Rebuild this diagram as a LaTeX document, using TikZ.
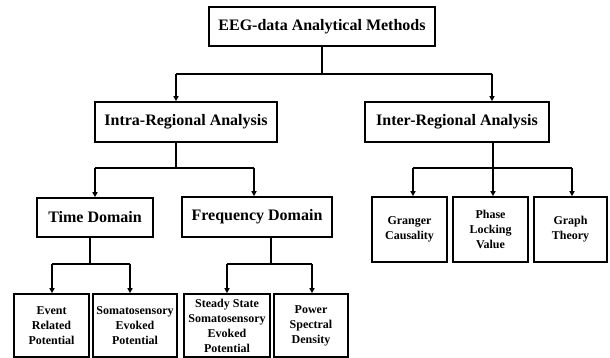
\documentclass[tikz,border=0pt]{standalone}
\usepackage{fontspec}
\setmainfont{Liberation Serif}
\usetikzlibrary{arrows.meta}
\begin{document}
\begin{tikzpicture}[x=1pt,y=-1pt,
  box/.style={draw,line width=1.6pt,rectangle,inner sep=0pt,align=center,font=\bfseries\fontsize{16}{19}\selectfont},
  leaf/.style={draw,line width=1.6pt,rectangle,inner sep=0pt,align=center,font=\bfseries\fontsize{12}{15}\selectfont},
  conn/.style={line width=1.3pt},
  arr/.style={line width=1.3pt,-{Triangle[width=5pt,length=5pt]}}]
\useasboundingbox[fill=white] (0,0) rectangle (610,358);
% boxes
\node[box,minimum width=226,minimum height=39] (top) at (322,26.5) {EEG-data Analytical Methods};
\node[box,minimum width=182,minimum height=40] (intra) at (186,122) {Intra-Regional Analysis};
\node[box,minimum width=184,minimum height=40] (inter) at (457,122) {Inter-Regional Analysis};
\node[box,minimum width=116,minimum height=39] (time) at (95,217.5) {Time Domain};
\node[box,minimum width=150,minimum height=40] (freq) at (257,217) {Frequency Domain};
\node[leaf,minimum width=75,minimum height=63] (erp) at (51.5,325.5) {Event\\Related\\Potential};
\node[leaf,minimum width=84,minimum height=63] (sep) at (135,325.5) {Somatosensory\\Evoked\\Potential};
\node[leaf,minimum width=86,minimum height=63] (ssep) at (227,325.5) {Steady State\\Somatosensory\\Evoked\\Potential};
\node[leaf,minimum width=74,minimum height=63] (psd) at (311,325.5) {Power\\Spectral\\Density};
\node[leaf,minimum width=75,minimum height=65] (gc) at (409.5,229.5) {Granger\\Causality};
\node[leaf,minimum width=75,minimum height=65] (plv) at (490.5,229.5) {Phase\\Locking\\Value};
\node[leaf,minimum width=73,minimum height=65] (gt) at (570.5,229.5) {Graph\\Theory};
% junction coordinates
\coordinate (j0) at (322,74);
\coordinate (a1) at (176,74);
\coordinate (a2) at (492,74);
\coordinate (j1) at (176,168);
\coordinate (b1) at (95,168);
\coordinate (b2) at (254,168);
\coordinate (j2) at (493,168);
\coordinate (c1) at (413,168);
\coordinate (c2) at (572,168);
\coordinate (j3) at (90,264);
\coordinate (d1) at (52,264);
\coordinate (d2) at (130,264);
\coordinate (j4) at (271,264);
\coordinate (e1) at (227,264);
\coordinate (e2) at (312,264);
% connectors
\draw[conn] (top.south) -- (j0);
\draw[conn] (a1) -- (a2);
\draw[arr] (a1) -- (intra.north -| a1);
\draw[arr] (a2) -- (inter.north -| a2);
\draw[conn] (intra.south -| j1) -- (j1);
\draw[conn] (b1) -- (b2);
\draw[arr] (b1) -- (time.north -| b1);
\draw[arr] (b2) -- (freq.north -| b2);
\draw[conn] (inter.south -| j2) -- (j2);
\draw[conn] (c1) -- (c2);
\draw[arr] (c1) -- (gc.north -| c1);
\draw[arr] (j2) -- (plv.north -| j2);
\draw[arr] (c2) -- (gt.north -| c2);
\draw[conn] (time.south -| j3) -- (j3);
\draw[conn] (d1) -- (d2);
\draw[arr] (d1) -- (erp.north -| d1);
\draw[arr] (d2) -- (sep.north -| d2);
\draw[conn] (freq.south -| j4) -- (j4);
\draw[conn] (e1) -- (e2);
\draw[arr] (e1) -- (ssep.north -| e1);
\draw[arr] (e2) -- (psd.north -| e2);
\end{tikzpicture}
\end{document}
